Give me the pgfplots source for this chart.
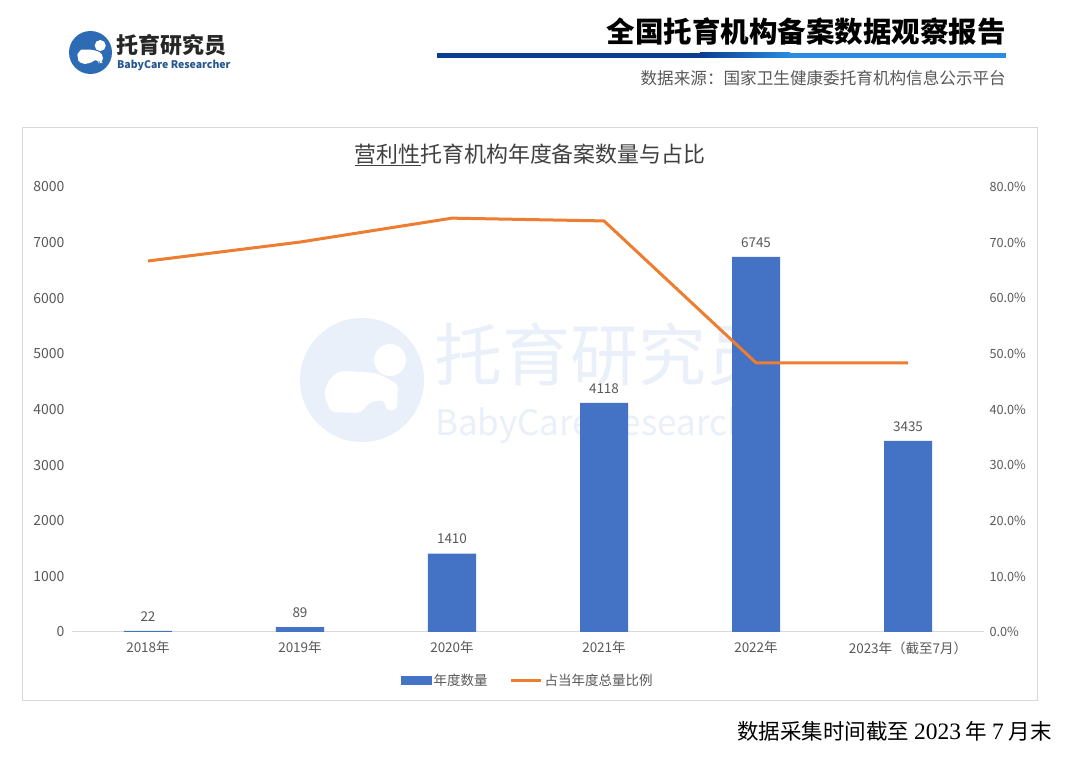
\documentclass[border=0pt]{standalone}
\usepackage{pgfplots}
\pgfplotsset{compat=1.18}
\usepackage{pgfplotstable}
\usepackage{fontspec}
\setmainfont{Noto Sans CJK SC}
\newfontfamily\serifnum{Liberation Serif}
\definecolor{barblue}{HTML}{4472C4}
\definecolor{lineorange}{HTML}{ED7D31}
\definecolor{ticktext}{HTML}{595959}
\definecolor{titletext}{HTML}{404040}
\definecolor{logoblue}{HTML}{2D6CB5}
\definecolor{navy}{HTML}{0B3D91}
\definecolor{lightblue}{HTML}{2A8BE0}
\definecolor{wm}{HTML}{EAF0F9}
\definecolor{frame}{HTML}{D9D9D9}

\newcommand\baby[1]{%
  \fill[#1] (28,20) circle (16);
  \fill[#1, rounded corners=4] (-37,-18) .. controls (-38,-4) and (-28,8) .. (-15,9) -- (14,7) -- (36,-4) -- (35,-30) -- (25,-31) -- (22,-20) -- (8,-22) -- (-2,-33) -- (-31,-32) -- cycle;
}

\pgfplotstableread{
x n p
0 22 66.7
1 89 70.1
2 1410 74.4
3 4118 73.9
4 6745 48.4
5 3435 48.4
}\data

\begin{document}
\begin{tikzpicture}[x=1pt,y=1pt]
\path[fill=white] (0,0) rectangle (1080,774);
% ---- header logo
\fill[logoblue] (90.5,774-52.5) circle (21.5);
\begin{scope}[shift={(90.5,774-52.5)}, scale=0.347]
\baby{white}
\end{scope}
\node[anchor=west, inner sep=0pt, font=\fontsize{22}{24}\selectfont\bfseries, text=black!85] at (116,774-45) {托育研究员};
\node[anchor=west, inner sep=0pt, font=\fontsize{10.5}{12}\selectfont\bfseries, text=logoblue!80!black] at (117,774-65) {BabyCare Researcher};
% ---- header title
\node[anchor=east, inner sep=0pt, font=\fontsize{28.5}{30}\selectfont\bfseries, text=black] at (1006,774-32) {全国托育机构备案数据观察报告};
\fill[navy] (437,774-58) rectangle (700,774-53);
\shade[left color=navy, right color=lightblue] (700,774-58) rectangle (790,774-53);
\fill[lightblue] (790,774-58) rectangle (1006,774-53);
\node[anchor=east, inner sep=0pt, font=\fontsize{16.6}{18}\selectfont, text=ticktext] at (1006,774-78) {数据来源：国家卫生健康委托育机构信息公示平台};
% ---- chart frame
\draw[frame, line width=0.8pt] (22,774-127) rectangle (1037,774-700);
% ---- watermark
\fill[wm] (362,774-380) circle (62);
\begin{scope}[shift={(362,774-380)}]
\baby{white}
\end{scope}
\node[anchor=west, inner sep=0pt, font=\fontsize{68}{70}\selectfont, text=wm] at (434,774-355) {托育研究员};
\node[anchor=west, inner sep=0pt, font=\fontsize{35}{37}\selectfont, text=wm] at (435,774-426) {BabyCare Researcher};
% ---- chart title
\node[inner sep=0pt, font=\fontsize{21.9}{23}\selectfont, text=titletext] at (530,774-155) {\underline{营利性}托育机构年度备案数量与占比};
% ---- footer
\node[anchor=east, inner sep=0pt, font=\fontsize{21.5}{23}\selectfont, text=black] at (1052,774-731) {数据采集时间截至 {\serifnum\fontsize{23.5}{23}\selectfont 2023} 年 {\serifnum\fontsize{23.5}{23}\selectfont 7} 月末};

\begin{axis}[
  at={(72pt,142pt)}, anchor=south west, scale only axis,
  width=912pt, height=445pt,
  xmin=-0.5, xmax=5.5, ymin=0, ymax=8000,
  xtick={0,1,2,3,4,5},
  xticklabels={2018年,2019年,2020年,2021年,2022年,2023年（截至7月）},
  ytick={0,1000,...,8000},
  axis line style={draw=none},
  major tick length=0pt,
  scaled y ticks=false,
  /pgf/number format/assume math mode=true,
  /pgf/number format/1000 sep={},
  tick label style={font=\fontsize{14}{15}\selectfont, text=ticktext},
  xticklabel style={font=\fontsize{13.5}{15}\selectfont, yshift=-6pt},
  yticklabel style={xshift=-4pt},
  clip=false,
]
\draw[frame, line width=1pt] (axis cs:-0.5,0) -- (axis cs:5.5,0);
\addplot[ybar, bar width=48pt, fill=barblue, draw=none,
  nodes near coords,
  every node near coord/.append style={font=\fontsize{13.5}{15}\selectfont, text=ticktext, yshift=6pt,
    /pgf/number format/assume math mode=true, /pgf/number format/1000 sep={}}]
  table[x=x, y=n] {\data};
\end{axis}

\begin{axis}[
  at={(72pt,142pt)}, anchor=south west, scale only axis,
  width=912pt, height=445pt,
  xmin=-0.5, xmax=5.5, ymin=0, ymax=80,
  axis x line=none,
  axis y line*=right,
  ytick={0,10,...,80},
  yticklabel={\pgfmathprintnumber[fixed,fixed zerofill,precision=1,assume math mode=true]{\tick}\%},
  axis line style={draw=none},
  major tick length=0pt,
  tick label style={font=\fontsize{12.7}{14}\selectfont, text=ticktext},
  yticklabel style={xshift=2pt},
  legend style={at={(0.5,-0.108)}, anchor=center, draw=none, fill=none,
    legend columns=2, font=\fontsize{13.5}{15}\selectfont, text=ticktext,
    /tikz/every even column/.append style={column sep=20pt}},
  clip=false,
]
\addlegendimage{legend image code/.code={\fill[barblue] (0pt,-4pt) rectangle (30pt,4pt);}}
\addlegendentry{年度数量}
\addplot[lineorange, line width=3pt, line join=round, mark=none,
  legend image code/.code={\draw[lineorange, line width=3pt] (0pt,0pt) -- (30pt,0pt);}]
  table[x=x, y=p] {\data};
\addlegendentry{占当年度总量比例}
\end{axis}
\end{tikzpicture}
\end{document}
